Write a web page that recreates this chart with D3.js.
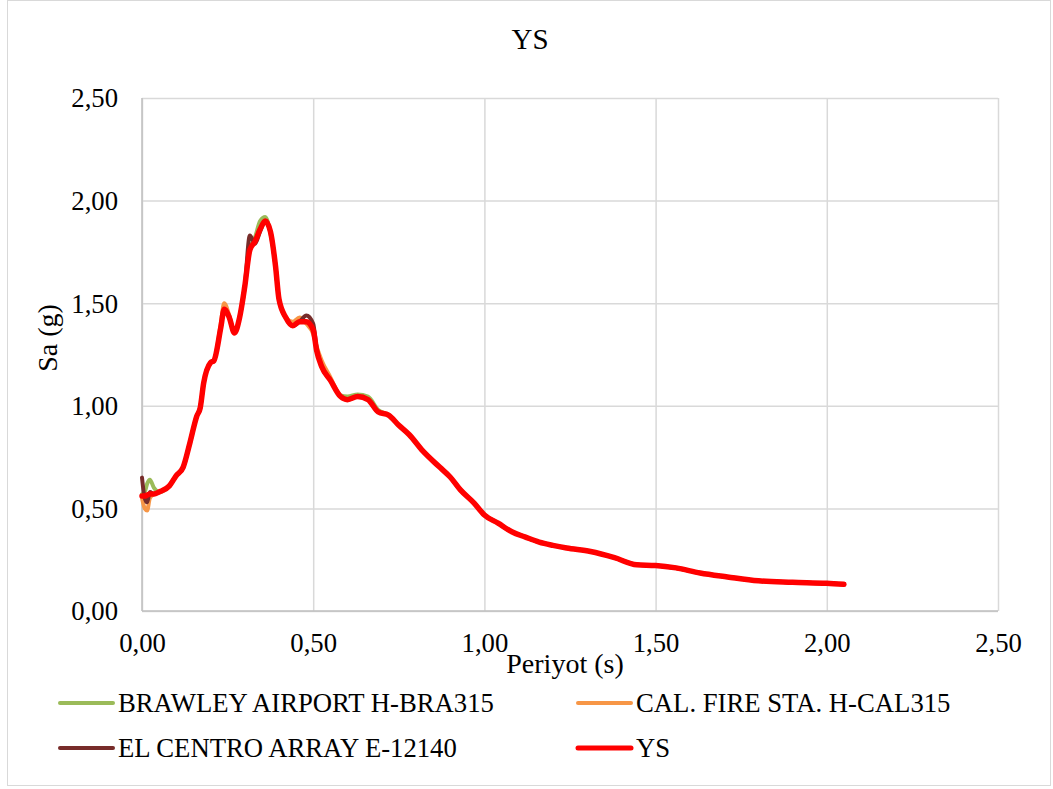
<!DOCTYPE html>
<html><head><meta charset="utf-8">
<script src="https://cdn.jsdelivr.net/npm/d3@7"></script>
<style>html,body{margin:0;padding:0;background:#fff;}</style>
</head><body><svg id="c" width="1053" height="789"></svg>
<script>
const periods = [0,0.008,0.015,0.023,0.035,0.05,0.08,0.10,0.12,0.14,0.16,0.17,0.18,0.20,0.21,0.23,0.24,0.255,0.27,0.285,0.30,0.315,0.33,0.345,0.36,0.375,0.39,0.40,0.42,0.44,0.46,0.48,0.50,0.51,0.525,0.55,0.58,0.60,0.63,0.66,0.69,0.72,0.75,0.78,0.82,0.87,0.90,0.93,0.97,1.00,1.04,1.08,1.12,1.16,1.20,1.24,1.31,1.38,1.445,1.50,1.56,1.63,1.71,1.80,1.90,2.00,2.05];
const ys  = [0.56,0.56,0.565,0.57,0.57,0.58,0.61,0.66,0.70,0.82,0.95,0.99,1.11,1.21,1.22,1.38,1.47,1.43,1.355,1.43,1.58,1.76,1.80,1.86,1.90,1.85,1.68,1.52,1.43,1.39,1.41,1.41,1.37,1.27,1.19,1.125,1.045,1.03,1.045,1.03,0.97,0.955,0.905,0.86,0.78,0.70,0.653,0.59,0.526,0.468,0.428,0.386,0.36,0.336,0.32,0.307,0.29,0.26,0.225,0.222,0.21,0.185,0.166,0.147,0.14,0.135,0.13];
const bra = [0.57,0.58,0.62,0.64,0.60,0.58,0.61,0.66,0.70,0.82,0.95,0.99,1.11,1.21,1.22,1.38,1.47,1.43,1.355,1.43,1.58,1.76,1.82,1.90,1.92,1.84,1.68,1.52,1.43,1.39,1.41,1.41,1.37,1.27,1.19,1.125,1.05,1.045,1.055,1.045,0.98,0.955,0.905,0.86,0.78,0.70,0.653,0.59,0.526,0.468,0.428,0.386,0.36,0.336,0.32,0.307,0.29,0.26,0.225,0.222,0.21,0.185,0.166,0.147,0.14,0.135,0.13];
const cal = [0.55,0.50,0.49,0.55,0.57,0.58,0.61,0.66,0.70,0.82,0.95,0.99,1.11,1.21,1.22,1.40,1.50,1.44,1.355,1.43,1.58,1.76,1.80,1.86,1.90,1.85,1.68,1.52,1.43,1.41,1.43,1.40,1.35,1.29,1.22,1.14,1.045,1.03,1.045,1.03,0.97,0.955,0.905,0.86,0.78,0.70,0.653,0.59,0.526,0.468,0.428,0.386,0.36,0.336,0.32,0.307,0.29,0.26,0.225,0.222,0.21,0.185,0.166,0.147,0.14,0.135,0.13];
const elc = [0.65,0.55,0.53,0.58,0.57,0.58,0.61,0.66,0.70,0.82,0.95,0.99,1.11,1.21,1.22,1.38,1.47,1.43,1.355,1.43,1.58,1.83,1.79,1.85,1.90,1.85,1.68,1.52,1.43,1.39,1.41,1.44,1.40,1.28,1.19,1.125,1.045,1.03,1.045,1.03,0.97,0.955,0.905,0.86,0.78,0.70,0.653,0.59,0.526,0.468,0.428,0.386,0.36,0.336,0.32,0.307,0.29,0.26,0.225,0.222,0.21,0.185,0.166,0.147,0.14,0.135,0.13];
const xTicks = [0,0.5,1,1.5,2,2.5];
const yTicks = [0,0.5,1,1.5,2,2.5];
const seriesNames = ["BRAWLEY AIRPORT H-BRA315","CAL. FIRE STA. H-CAL315","EL CENTRO ARRAY E-12140","YS"];
const seriesColors = ["#9BBB59","#F79646","#772C2A","#FF0000"];
const title = "YS", xTitle = "Periyot (s)", yTitle = "Sa (g)";

const FONT = "'Liberation Serif'";
const svg = d3.select("#c");
const m = {l:142, r:998, t:98, b:611};
const x = d3.scaleLinear().domain([0,2.5]).range([m.l,m.r]);
const y = d3.scaleLinear().domain([0,2.5]).range([m.b,m.t]);
const fmt = d => d.toFixed(2).replace(".", ",");

svg.append("rect").attr("x",7.5).attr("y",0.5).attr("width",1043).attr("height",785)
  .attr("fill","#fff").attr("stroke","#d9d9d9").attr("stroke-width",1);

const gx = svg.append("g").attr("transform",`translate(0,${m.b})`)
  .call(d3.axisBottom(x).tickValues(xTicks).tickSize(-(m.b-m.t)).tickFormat(fmt));
gx.select(".domain").remove();
gx.attr("font-family",null).attr("font-size",null);
gx.selectAll("line").attr("stroke","#d9d9d9").attr("stroke-width",1.5);
gx.selectAll("text").style("font-family",FONT).style("font-size","26.7px").attr("fill","#000").attr("dy",0).attr("y",41);

const gy = svg.append("g").attr("transform",`translate(${m.l},0)`)
  .call(d3.axisLeft(y).tickValues(yTicks).tickSize(-(m.r-m.l)).tickFormat(fmt));
gy.select(".domain").remove();
gy.attr("font-family",null).attr("font-size",null);
gy.selectAll("line").attr("stroke","#d9d9d9").attr("stroke-width",1.5);
gy.selectAll("text").style("font-family",FONT).style("font-size","26.7px").attr("fill","#000").attr("x",-24).attr("dy","0.33em");

svg.append("line").attr("x1",m.l).attr("x2",m.l).attr("y1",m.t).attr("y2",m.b).attr("stroke","#bfbfbf").attr("stroke-width",1.5);
svg.append("line").attr("x1",m.l).attr("x2",m.r).attr("y1",m.b).attr("y2",m.b).attr("stroke","#bfbfbf").attr("stroke-width",1.5);

const line = d3.line().x(d=>x(d[0])).y(d=>y(d[1])).curve(d3.curveMonotoneX);
const allVals = [bra, cal, elc, ys];
const widths = [4,4,4,5.5];
allVals.forEach((vals,i)=>{
  svg.append("path").datum(periods.map((p,j)=>[p,vals[j]]))
    .attr("d",line).attr("fill","none").attr("stroke",seriesColors[i])
    .attr("stroke-width",widths[i]).attr("stroke-linejoin","round").attr("stroke-linecap","round");
});

function txt(s){ return svg.append("text").style("font-family",FONT).attr("fill","#000").text(s); }
txt(title).attr("x",530).attr("y",49).attr("text-anchor","middle").style("font-size","29px");
txt(xTitle).attr("x",565).attr("y",673).attr("text-anchor","middle").style("font-size","28px");
txt(yTitle).attr("transform","translate(57,338) rotate(-90)").attr("text-anchor","middle").style("font-size","28px");

const legPos = [[60,703],[578,703],[60,748],[578,748]];
seriesNames.forEach((n,i)=>{
  const [lx,ly] = legPos[i];
  svg.append("line").attr("x1",lx).attr("x2",lx+53).attr("y1",ly).attr("y2",ly)
    .attr("stroke",seriesColors[i]).attr("stroke-width",i===3?5:4).attr("stroke-linecap","round");
  txt(n).attr("x",lx+58).attr("y",ly+9).style("font-size","26.7px");
});
</script></body></html>
